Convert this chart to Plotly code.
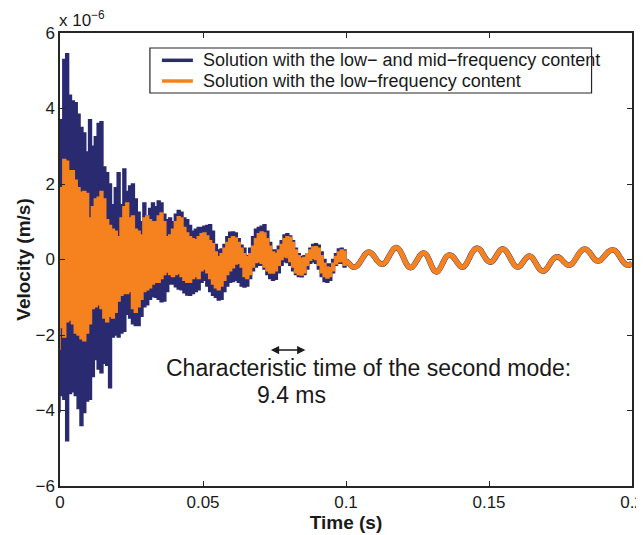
import plotly.graph_objects as go

# time base of the early, broadband part (1 ms steps, 0 .. 100 ms)
t_head_ms = list(range(0, 101))

# upper / lower envelope of the oscillating band, units of 1e-6 m/s
blue_hi = [3.7, 5.3, 5.45, 4.35, 4.2, 4.15, 3.85, 3.5, 3.35, 2.85,
           3.7, 3.0, 3.25, 3.6, 3.65, 2.45, 2.3, 2.0, 1.45, 1.9,
           2.3, 1.45, 2.4, 1.8, 1.95, 2.0, 1.6, 1.25, 1.0, 1.5,
           1.15, 1.35, 1.5, 1.4, 1.55, 1.5, 1.2, 1.05, 1.1, 1.0,
           1.2, 1.3, 1.25, 1.1, 1.05, 0.9, 0.75, 0.8, 0.85, 0.85,
           0.88, 0.9, 0.92, 0.75, 0.4, 0.25, 0.28, 0.4, 0.6, 0.72,
           0.73, 0.7, 0.55, 0.38, 0.3, 0.1, 0.3, 0.6, 0.8, 0.85,
           0.88, 0.92, 0.75, 0.45, 0.25, 0.25, 0.35, 0.5, 0.65, 0.68,
           0.62, 0.5, 0.3, 0.15, 0.08, 0.1, 0.15, 0.3, 0.4, 0.42,
           0.38, 0.2, 0.0, -0.12, -0.12, 0.0, 0.15, 0.28, 0.3, 0.25,
           0.1]
blue_lo = [-4.05, -3.6, -3.7, -4.8, -3.55, -3.5, -3.6, -3.95, -4.4, -4.05,
           -3.75, -3.7, -3.1, -2.65, -2.9, -3.0, -2.75, -2.8, -3.4, -2.05,
           -2.0, -2.05, -1.95, -1.9, -1.45, -1.55, -1.7, -1.75, -1.75, -1.5,
           -1.25, -1.2, -1.05, -0.98, -1.0, -1.05, -1.12, -1.1, -0.85, -0.65,
           -0.65, -0.72, -0.78, -0.8, -0.88, -0.94, -0.95, -0.9, -0.85, -0.8,
           -0.6, -0.55, -0.7, -0.85, -0.95, -1.0, -1.07, -1.05, -0.85, -0.7,
           -0.6, -0.58, -0.55, -0.6, -0.7, -0.73, -0.7, -0.5, -0.3, -0.2,
           -0.15, -0.15, -0.25, -0.4, -0.5, -0.55, -0.52, -0.35, -0.15, -0.06,
           -0.08, -0.15, -0.3, -0.4, -0.45, -0.46, -0.4, -0.25, -0.1, -0.06,
           -0.1, -0.25, -0.45, -0.58, -0.6, -0.55, -0.35, -0.15, -0.1, -0.1,
           -0.2]
orange_hi = [1.9, 2.65, 2.6, 2.35, 2.35, 2.1, 1.9, 1.78, 1.8, 1.75,
             1.1, 1.4, 1.6, 1.65, 1.8, 1.6, 1.05, 0.9, 0.8, 0.75,
             0.6, 1.1, 1.4, 1.5, 1.1, 1.15, 0.8, 0.75, 0.65, 1.1,
             1.15, 1.05, 1.0, 1.0, 1.15, 1.23, 1.0, 0.6, 0.65, 0.8,
             1.0, 1.13, 1.1, 0.85, 0.7, 0.6, 0.55, 0.52, 0.6, 0.68,
             0.7, 0.62, 0.5, 0.42, 0.2, 0.07, 0.15, 0.3, 0.45, 0.55,
             0.6, 0.57, 0.45, 0.3, 0.15, 0.07, 0.15, 0.35, 0.55, 0.68,
             0.73, 0.7, 0.55, 0.35, 0.2, 0.16, 0.25, 0.4, 0.55, 0.6,
             0.58, 0.45, 0.25, 0.1, 0.03, 0.05, 0.15, 0.25, 0.33, 0.34,
             0.3, 0.1, -0.1, -0.2, -0.22, -0.1, 0.08, 0.2, 0.25, 0.22,
             0.1]
orange_lo = [-2.4, -1.8, -2.05, -1.65, -1.6, -1.7, -1.95, -2.0, -2.1, -2.15,
             -1.95, -1.7, -1.3, -1.25, -1.2, -1.3, -1.55, -1.65, -1.5, -1.55,
             -1.4, -1.1, -0.95, -0.9, -0.9, -0.85, -1.3, -1.4, -1.25, -1.05,
             -0.85, -0.8, -0.75, -0.65, -0.6, -0.6, -0.5, -0.4, -0.33, -0.4,
             -0.45, -0.4, -0.37, -0.45, -0.55, -0.6, -0.6, -0.5, -0.45, -0.5,
             -0.3, -0.25, -0.35, -0.5, -0.65, -0.75, -0.8, -0.7, -0.55, -0.4,
             -0.3, -0.22, -0.12, -0.1, -0.2, -0.45, -0.5, -0.4, -0.2, -0.08,
             -0.06, -0.1, -0.2, -0.3, -0.36, -0.36, -0.3, -0.15, 0.0, 0.07,
             0.05, -0.05, -0.2, -0.35, -0.4, -0.41, -0.35, -0.15, -0.02, 0.03,
             0.0, -0.15, -0.35, -0.45, -0.49, -0.45, -0.3, -0.12, -0.06, -0.05,
             -0.15]

# late part (100 .. 200 ms): both solutions coincide, one wavy line
t_tail_ms = list(range(100, 201))
tail_mid = [-0.03, -0.1, -0.18, -0.2, -0.16, -0.06, 0.06, 0.16, 0.2, 0.16,
            0.07, -0.04, -0.11, -0.12, -0.05, 0.08, 0.21, 0.3, 0.31, 0.22,
            0.07, -0.1, -0.2, -0.21, -0.12, 0.0, 0.12, 0.17, 0.14, 0.0,
            -0.18, -0.31, -0.32, -0.22, -0.07, 0.07, 0.12, 0.1, 0.02, -0.09,
            -0.18, -0.2, -0.12, 0.02, 0.17, 0.27, 0.3, 0.25, 0.13, 0.01,
            -0.06, -0.06, 0.03, 0.15, 0.25, 0.28, 0.22, 0.1, -0.04, -0.16,
            -0.2, -0.16, -0.06, 0.04, 0.09, 0.06, -0.05, -0.18, -0.28, -0.31,
            -0.26, -0.15, -0.03, 0.05, 0.07, 0.03, -0.05, -0.12, -0.15, -0.12,
            -0.02, 0.1, 0.21, 0.27, 0.27, 0.2, 0.1, 0.0, -0.04, -0.02,
            0.06, 0.15, 0.22, 0.25, 0.24, 0.16, 0.04, -0.07, -0.14, -0.15,
            -0.1]

legend_names = ['Solution with the low\u2212 and mid\u2212frequency content',
                'Solution with the low\u2212frequency content']

BLUE = '#2a2a70'
ORANGE = '#f5821f'
INK = '#1a1a1a'
FONT = 'Arial, Liberation Sans, Helvetica, sans-serif'

fig = go.Figure()
t_head = [t / 1000 for t in t_head_ms]
t_tail = [t / 1000 for t in t_tail_ms]

for col, hi, lo, wtail in [(BLUE, blue_hi, blue_lo, 5.6),
                           (ORANGE, orange_hi, orange_lo, 5)]:
    # dense oscillation drawn as the band between its envelopes
    fig.add_trace(go.Scatter(x=t_head + t_head[::-1], y=hi + lo[::-1], mode='lines',
                             fill='toself', fillcolor=col,
                             line=dict(color=col, width=1.5, shape='hv'),
                             showlegend=False, hoverinfo='skip'))
    fig.add_trace(go.Scatter(x=t_tail, y=tail_mid, mode='lines',
                             line=dict(color=col, width=wtail, shape='spline', smoothing=0.8),
                             showlegend=False))

# legend drawn by hand (MATLAB style box)
fig.add_shape(type='rect', xref='paper', yref='paper', x0=0.1572, x1=0.9293,
              y0=0.8675, y1=0.9669, line=dict(color='#262626', width=1.2),
              fillcolor='white', layer='above')
for name, col, yy in [(legend_names[0], BLUE, 0.9397), (legend_names[1], ORANGE, 0.8940)]:
    fig.add_shape(type='line', xref='paper', yref='paper', x0=0.1782, x1=0.2323,
                  y0=yy, y1=yy, line=dict(color=col, width=3.5), layer='above')
    fig.add_annotation(x=0.2465, y=yy, xref='paper', yref='paper', xanchor='left',
                       yanchor='middle', text=name, showarrow=False,
                       font=dict(family=FONT, size=18, color=INK))

# double arrow and note
fig.add_annotation(x=0.0858, y=-2.4, ax=0.0732, ay=-2.4, xref='x', yref='y',
                   axref='x', ayref='y', text='', showarrow=True, arrowhead=2,
                   arrowside='end+start', arrowsize=1.1, arrowwidth=1.5, arrowcolor=INK)
fig.add_annotation(x=0.0365, y=-2.88, xref='x', yref='y', xanchor='left', yanchor='middle',
                   text='Characteristic time of the second mode:', showarrow=False,
                   font=dict(family=FONT, size=23, color=INK))
fig.add_annotation(x=0.0682, y=-3.58, xref='x', yref='y', xanchor='left', yanchor='middle',
                   text='9.4 ms', showarrow=False,
                   font=dict(family=FONT, size=23, color=INK))
fig.add_annotation(x=0, y=1.0, xref='paper', yref='paper', xanchor='left', yanchor='bottom',
                   xshift=-3, yshift=1, text='x 10<sup>\u22126</sup>', showarrow=False,
                   font=dict(family=FONT, size=17, color=INK))

axis_style = dict(showline=True, linecolor='#262626', linewidth=1.5, mirror='ticks',
                  ticks='inside', ticklen=5, tickwidth=1, tickcolor='#262626',
                  showgrid=False, zeroline=False, automargin=False,
                  ticklabeloverflow='allow',
                  tickfont=dict(family=FONT, size=17, color=INK))

fig.update_xaxes(range=[0, 0.2], tickvals=[0, 0.05, 0.1, 0.15, 0.2],
                 ticktext=['0', '0.05', '0.1', '0.15', '0.2'],
                 title=dict(text='<b>Time (s)</b>', standoff=2,
                            font=dict(family=FONT, size=19, color=INK)),
                 **axis_style)
fig.update_yaxes(range=[-6, 6], tickvals=[-6, -4, -2, 0, 2, 4, 6],
                 title=dict(text='<b>Velocity (m/s)</b>', standoff=0,
                            font=dict(family=FONT, size=19, color=INK)),
                 **axis_style)

# the page puts the figure 8 px in from the corner, so the figure is made
# 8 px smaller and the margins allow for that offset
fig.update_layout(
    width=636, height=527,
    margin=dict(l=52, r=12, t=25, b=49),
    paper_bgcolor='white', plot_bgcolor='white',
    font=dict(family=FONT, color=INK),
    showlegend=False,
)

fig.write_html("out.html")
